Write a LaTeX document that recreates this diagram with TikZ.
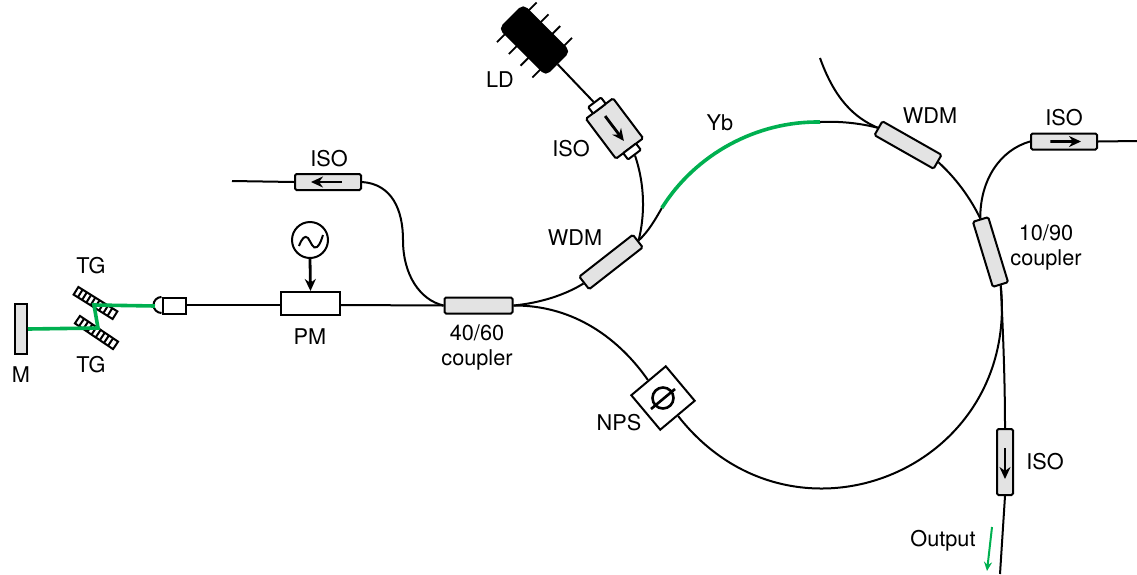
\documentclass[tikz,border=0pt]{standalone}
\usepackage{fontspec}
\setsansfont{TeX Gyre Heros}
\usetikzlibrary{calc}
\usetikzlibrary{arrows.meta}
\definecolor{beamgreen}{HTML}{00B050}
\definecolor{partgray}{HTML}{E3E3E3}
\newcommand*{\lblsize}{\fontsize{21.7}{25}\selectfont}
\newcommand*{\wid}{1137}
\newcommand*{\hgt}{574}
\newcommand*{\grating}[3]{
    \begin{scope}[shift={(#1,#2)}, rotate=#3]
        \draw [line width=2pt, fill=white] (-23,-4.5) rectangle (23,4.5);
        \foreach \r in {-18,-13,...,18} \draw [line width=2pt] (\r,-4.5) -- (\r,4.5);
    \end{scope}
}
\tikzset{
    fibre/.style    = {line width=2pt},
    beam/.style     = {line width=3.6pt, draw=beamgreen},
    part/.style     = {draw, line width=2pt, inner sep=0pt, fill=white},
    grayrect/.style = {part, fill=partgray, rounded corners=1.5pt},
    coupler/.style  = {grayrect, minimum width=68pt, minimum height=16pt},
    iso/.style      = {grayrect, minimum width=66pt, minimum height=16pt},
    tab/.style      = {part, rounded corners=1pt, minimum width=8pt, minimum height=16pt},
    isoarr/.style   = {line width=2.8pt, -{Stealth[length=12pt, width=11pt]}},
    lbl/.style      = {inner sep=0pt, align=center}
}
\begin{document}
\begin{tikzpicture}[x=1pt, y=-1pt, font=\sffamily\lblsize]
    \useasboundingbox (0,0) rectangle (\wid,\hgt);

    % ends of the fibres and the ring
    \coordinate (fibL) at (232,181);
    \coordinate (fibR) at (\wid,141);
    \coordinate (fibO) at (1000,\hgt);
    \coordinate (fibT) at (820,58);
    \coordinate (ringc) at (817,305);
    \coordinate (ybA) at ($(ringc)+(212:183)$);
    \coordinate (ybB) at ($(ringc)+(271:183)$);

    % free space part
    \node [part, fill=partgray, minimum width=12pt, minimum height=50pt] (mirror) at (21,329) {};
    \grating{95.5}{303}{-32}
    \grating{96.5}{332.5}{-34}
    \coordinate (tgA) at (98,328);
    \coordinate (tgB) at (94,305);
    \node [part, minimum width=23pt, minimum height=16pt] (colli) at (174,306) {};
    \draw [fibre] (colli.north west) arc (270:90:8);
    \draw [beam] (mirror.east) -- (tgA) -- (tgB) -- (colli.west -| 155,304);

    % parts on the fibres
    \node [part, minimum width=59pt, minimum height=23pt] (pm) at (310.5,303.5) {};
    \node [part, circle, minimum size=36pt] (sig) at (310,240) {};
    \node [coupler] (cplA) at (478.5,305.5) {};
    \node [iso, rotate=180] (isoL) at (328,182) {};
    \node [coupler, rotate=38] (wdmA) at (611,262) {};
    \node [coupler, rotate=-29.6] (wdmB) at (908,145) {};
    \node [coupler, rotate=-73] (cplB) at (990.5,252) {};
    \node [iso] (isoR) at (1064,141.5) {};
    \node [iso, rotate=-90] (isoD) at (1005,462) {};
    \node [part, minimum size=45pt, rotate=-50] (nps) at (663,398) {};
    \node [grayrect, minimum width=50pt, minimum height=34pt, rotate=-53] (isoB) at (614.5,128.5) {};
    \node [tab, rotate=-53] (tabA) at ($(isoB)+(-17.5,-23)$) {};
    \node [tab, rotate=-53] (tabB) at ($(isoB)+(17.5,23)$) {};
    \node [part, fill=black, minimum width=65pt, minimum height=33pt, rounded corners=5pt, rotate=-45] (ld) at (534.5,40) {};
    \begin{scope}[shift={(ld.center)}, rotate=-45]
        \foreach \p in {-25,-8.3,8.3,25} \draw [line width=1.8pt] (\p,-28) -- (\p,28);
    \end{scope}

    % fibres
    \draw [fibre] (colli.east |- 0,305) -- (pm.west |- 0,305);
    \draw [fibre] (pm.east |- 0,305) -- (cplA.west);
    \draw [fibre] (fibL) -- (isoL.east);
    \draw [fibre] (isoL.west) .. controls (392,184) and (403,210) .. (403,240) .. controls (403,275) and (420,300) .. (cplA.west);
    \draw [fibre] (cplA.east) .. controls (540,303) and (565,295) .. (wdmA.west);
    \draw [fibre] (cplA.east) .. controls (575,305) and (620,340) .. (nps.west);
    \draw [fibre] (wdmA.east) .. controls (648,232) and (655,220) .. (ybA);
    \draw [fibre] (ld) -- (tabA);
    \draw [fibre] (tabB.east) .. controls (645,185) and (645,215) .. (wdmA.east);
    \draw [beam] (ybA) to [bend left=29.5, looseness=0.9] (ybB);
    \draw [fibre] (ybB) to [bend left=8.5, looseness=0.85] (wdmB.west);
    \draw [fibre] (fibT) .. controls (835,100) and (855,118) .. (wdmB.west);
    \draw [fibre] (wdmB.east) to [bend left=11, looseness=0.85] (cplB.west);
    \draw [fibre] (isoR.west) .. controls (1000,150) and (980,180) .. (cplB.west);
    \draw [fibre] (isoR.east) -- (fibR);
    \draw [fibre] (nps.east) to [bend right=74, looseness=1.37] (cplB.east);
    \draw [fibre] (cplB.east) .. controls (1003,330) and (1005,380) .. (isoD.west);
    \draw [fibre] (isoD.east) -- (fibO);

    % signs inside the parts
    \draw [isoarr] (sig.south) -- (pm.north);
    \draw [line width=2pt] (299,246) .. controls (302,238) and (305,235) .. (308,238) .. controls (311,242) and (313,250) .. (317,247) .. controls (320,245) and (322,238) .. (323,235);
    \draw [isoarr] ($(isoL.west)!0.3!(isoL.east)$) -- ($(isoL.west)!0.75!(isoL.east)$);
    \draw [isoarr] ($(isoR.west)!0.3!(isoR.east)$) -- ($(isoR.west)!0.75!(isoR.east)$);
    \draw [isoarr] ($(isoD.west)!0.3!(isoD.east)$) -- ($(isoD.west)!0.75!(isoD.east)$);
    \draw [isoarr] ($(isoB.west)!0.2!(isoB.east)$) -- ($(isoB.west)!0.8!(isoB.east)$);
    \draw [line width=2.6pt] (nps) circle [radius=10.5pt];
    \draw [line width=2.6pt] (651,409) -- (675,389);

    % output
    \coordinate (outA) at (992,527);
    \coordinate (outB) at (987,571);
    \draw [line width=2pt, draw=beamgreen, -{Stealth[length=9pt, width=8pt]}] (outA) -- (outB);

    % labels
    \node [lbl] (lblM) at (21,375) {M};
    \node [lbl] (lblTGa) at (91,266) {TG};
    \node [lbl] (lblTGb) at (91,365) {TG};
    \node [lbl] (lblPM) at (310,337) {PM};
    \node [lbl] (lblCplA) at (477,347) {40/60\\coupler};
    \node [lbl] (lblIsoL) at (329,159) {ISO};
    \node [lbl] (lblLD) at (500,80) {LD};
    \node [lbl] (lblIsoB) at (571,149) {ISO};
    \node [lbl] (lblWdmA) at (575,238) {WDM};
    \node [lbl] (lblYb) at (720,123) {Yb};
    \node [lbl] (lblWdmB) at (930,116) {WDM};
    \node [lbl] (lblIsoR) at (1064,118) {ISO};
    \node [lbl] (lblCplB) at (1046,247) {10/90\\coupler};
    \node [lbl] (lblNPS) at (619,423) {NPS};
    \node [lbl] (lblIsoD) at (1045,462) {ISO};
    \node [lbl] (lblOut) at (943,541) {Output};
\end{tikzpicture}
\end{document}
